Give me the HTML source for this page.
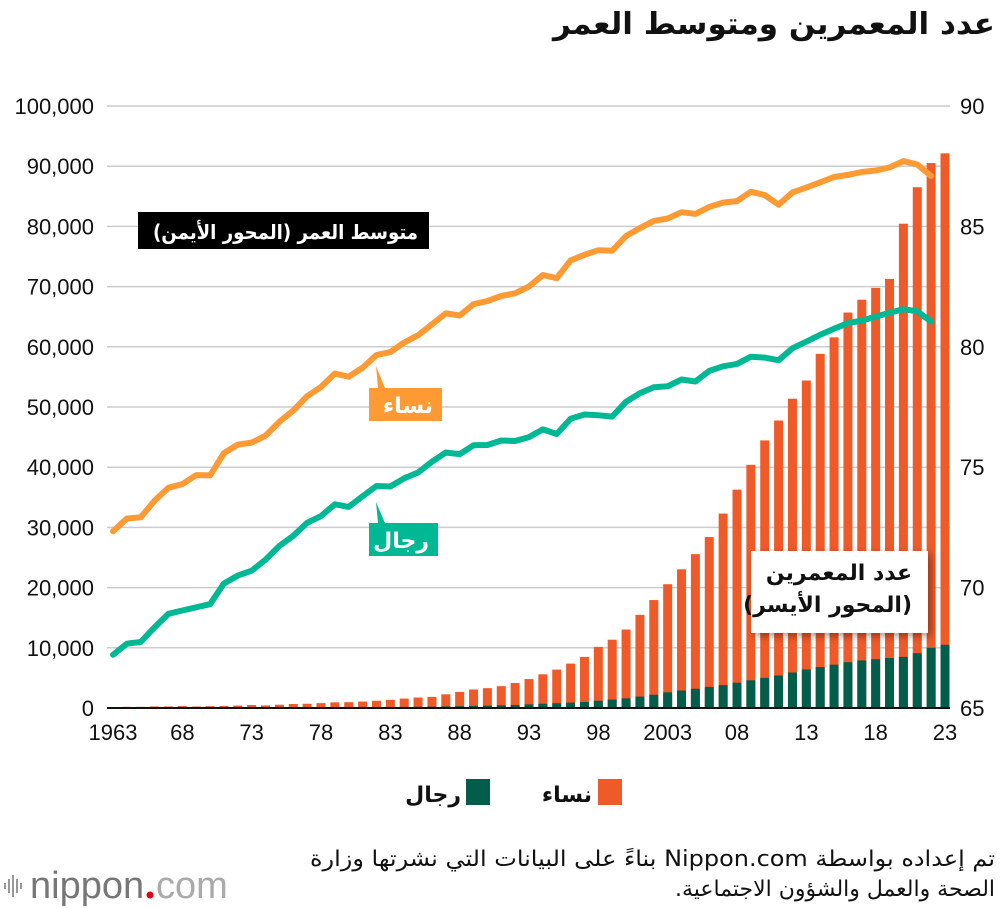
<!DOCTYPE html>
<html><head><meta charset="utf-8">
<style>
body{margin:0;background:#fff;width:1000px;height:908px;overflow:hidden;font-family:"Liberation Sans","DejaVu Sans",sans-serif;}
svg{position:absolute;left:0;top:0}
</style></head>
<body>
<svg id="chart" width="1000" height="908"></svg>
<script>
const years=[];for(let y=1963;y<=2023;y++)years.push(y);
const totalCount=[153,191,198,252,255,327,252,310,339,405,495,427,548,666,705,811,937,968,1072,1201,1354,1567,1740,1851,2271,2668,3078,3298,3625,4152,4802,5593,6378,7373,8491,10158,11346,13036,15475,17934,20561,23038,25554,28395,32295,36276,40399,44449,47756,51376,54397,58820,61568,65692,67824,69785,71274,80450,86510,90526,92139];
const menCount=[20,22,24,28,30,35,30,40,42,50,60,55,70,80,90,100,110,120,130,140,160,180,200,220,260,300,350,400,450,500,600,700,800,900,1000,1200,1400,1600,1900,2200,2600,2900,3200,3500,3800,4200,4600,5000,5400,5900,6400,6800,7200,7600,7900,8100,8300,8500,9100,10000,10500];
const lifeYears=years.slice(0,60);
const lifeWomen=[72.34,72.87,72.92,73.61,74.15,74.30,74.67,74.66,75.58,75.94,76.02,76.31,76.89,77.35,77.95,78.33,78.89,78.76,79.13,79.66,79.78,80.18,80.48,80.93,81.39,81.30,81.77,81.90,82.11,82.22,82.51,82.98,82.85,83.59,83.82,84.01,83.99,84.60,84.93,85.23,85.33,85.59,85.52,85.81,85.99,86.05,86.44,86.30,85.90,86.41,86.61,86.83,87.05,87.14,87.26,87.32,87.45,87.71,87.57,87.09];
const lifeMen=[67.21,67.67,67.74,68.35,68.91,69.05,69.18,69.31,70.17,70.50,70.70,71.16,71.73,72.15,72.69,72.97,73.46,73.35,73.79,74.22,74.20,74.54,74.78,75.23,75.61,75.54,75.91,75.92,76.11,76.09,76.25,76.57,76.38,77.01,77.19,77.16,77.10,77.72,78.07,78.32,78.36,78.64,78.56,79.00,79.19,79.29,79.59,79.55,79.44,79.94,80.21,80.50,80.75,80.98,81.09,81.25,81.41,81.56,81.47,81.05];
const leftTicks=[0,10000,20000,30000,40000,50000,60000,70000,80000,90000,100000];
const rightTicks=[65,70,75,80,85,90];
const xTickYears=[1963,1968,1973,1978,1983,1988,1993,1998,2003,2008,2013,2018,2023];
const xTickLabels=["1963","68","73","78","83","88","93","98","2003","08","13","18","23"];

const NS="http://www.w3.org/2000/svg";
const svg=document.getElementById('chart');
const X=y=>113+(y-1963)*(945-113)/60;
const YL=v=>708-v*(708-106)/100000;
const YR=v=>708-(v-65)*(708-106)/25;
function mk(tag,attrs,parent){const e=document.createElementNS(NS,tag);for(const k in attrs)e.setAttribute(k,attrs[k]);(parent||svg).appendChild(e);return e;}
function txt(s,attrs,parent){const e=mk('text',attrs,parent);e.textContent=s;return e;}
function ar(s,x,y,size,weight,fill,len){const a={x:x,y:y,'text-anchor':'start',direction:'rtl','font-size':size,'font-weight':weight,fill:fill,'font-family':'"DejaVu Sans",sans-serif'};if(len){a.textLength=len;a.lengthAdjust='spacingAndGlyphs';}return txt(s,a);}

let t=ar('عدد المعمرين ومتوسط العمر',995,34,30,'bold','#111',442);


leftTicks.forEach(v=>{
  const g=mk('line',{x1:107,x2:950,y1:YL(v),y2:YL(v),stroke:'#ccc','stroke-width':1.5});
  
  const l=txt(v.toLocaleString('en-US'),{x:94,y:YL(v)+8,'text-anchor':'end','font-size':22,fill:'#111'});
  
});
rightTicks.forEach(v=>{
  const l=txt(String(v),{x:960,y:YR(v)+8,'font-size':22,fill:'#111'});
  
});
xTickYears.forEach((y,i)=>{
  const l=txt(xTickLabels[i],{x:X(y),y:740,'text-anchor':'middle','font-size':22,fill:'#111'});
  
});

years.forEach((y,i)=>{
  const w=9,x=X(y)-w/2;
  const b=mk('rect',{x:x,y:YL(totalCount[i]),width:w,height:YL(0)-YL(totalCount[i]),fill:'#f05a28'});
  
  const m=mk('rect',{x:x,y:YL(menCount[i]),width:w,height:YL(0)-YL(menCount[i]),fill:'#025e4a'});
  
});
const ax=mk('line',{x1:107,x2:950,y1:708,y2:708,stroke:'#111','stroke-width':2});


const defs=mk('defs',{});
defs.innerHTML='<filter id="sh" x="-20%" y="-20%" width="140%" height="140%"><feDropShadow dx="3" dy="3" stdDeviation="4" flood-color="#000" flood-opacity="0.4"/></filter>';
const bb=mk('rect',{x:751,y:551,width:177,height:82,fill:'#fff',filter:'url(#sh)'});

t=ar('عدد المعمرين',912,580,22,'bold','#111');

t=ar('(المحور الأيسر)',912,612,22,'bold','#111');


function line(vals,color,name){
  const d=vals.map((v,i)=>(i?'L':'M')+X(lifeYears[i]).toFixed(1)+','+YR(v).toFixed(1)).join('');
  const p=mk('path',{d:d,fill:'none',stroke:color,'stroke-width':6,'stroke-linejoin':'round','stroke-linecap':'round'});
  
}
line(lifeWomen,'#fd9a34','women-life-expectancy-line');
line(lifeMen,'#00b894','men-life-expectancy-line');

const blk=mk('rect',{x:138,y:212,width:291,height:37,fill:'#000'});

t=ar('متوسط العمر (المحور الأيمن)',418,239,20,'bold','#fff',265);


const cw=mk('path',{d:'M369,388 L378,388 L376,366 L385,388 L442,388 L442,421 L369,421 Z',fill:'#fd9a34'});

t=ar('نساء',433,413,22,'bold','#fff');

const cm=mk('path',{d:'M369,523 L378,523 L376,502 L385,523 L438,523 L438,556 L369,556 Z',fill:'#00b894'});

t=ar('رجال',429,548,22,'bold','#fff');


let r=mk('rect',{x:598,y:779,width:24,height:26,fill:'#f05a28'});

t=ar('نساء',592,802,22,'bold','#111');

r=mk('rect',{x:466,y:779,width:24,height:26,fill:'#025e4a'});

t=ar('رجال',461,802,22,'bold','#111');


t=ar('تم إعداده بواسطة Nippon.com بناءً على البيانات التي نشرتها وزارة',995,866,22,'normal','#111',685);

t=ar('الصحة والعمل والشؤون الاجتماعية.',995,896,22,'normal','#111',320);


const lg=mk('g',{});

[[4,6],[8,14],[12,22],[16,14],[20,6]].forEach(a=>mk('rect',{x:a[0],y:886-a[1]/2,width:2,height:a[1],fill:'#999'},lg));
txt('nippon',{x:30,y:898,'font-size':38,fill:'#777'},lg);
mk('circle',{cx:150,cy:895,r:3.5,fill:'#e60012'},lg);
txt('com',{x:156,y:898,'font-size':38,fill:'#aaa'},lg);
</script>
</body></html>
